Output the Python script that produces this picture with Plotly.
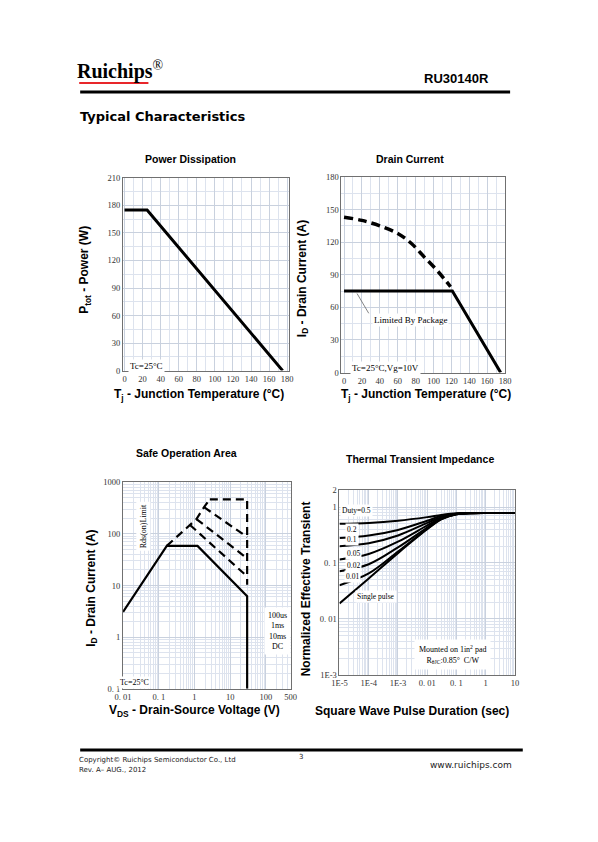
import plotly.graph_objects as go

W, H = 598, 842

# ---------------- data ----------------
# Power dissipation
pd_temp = [0, 25, 175]
pd_power = [175, 175, 0]

# Drain current
dc_temp_pkg = [0, 121, 175]
dc_id_pkg = [75, 75, 0]
dc_temp_si = [0, 20, 40, 60, 75, 90, 105, 119]
dc_id_si = [143, 140, 135, 128, 119, 106, 93, 79]

# Safe operating area
soa_v_dc = [0.01, 0.168, 1.22, 30, 30]
soa_i_dc = [3.08, 58.5, 58.5, 6.2, 0.1]
soa_v_rds = [0.168, 1.14, 1.86, 2.7]
soa_i_rds = [58.5, 194, 329, 468]
soa_v_100us = [2.7, 30, 30]
soa_i_100us = [468, 468, 10.4]
soa_v_1ms = [1.86, 30]
soa_i_1ms = [329, 87]
soa_v_10ms = [1.14, 30]
soa_i_10ms = [194, 33.5]
soa_v_3 = [0.75, 30]
soa_i_3 = [149, 15]

# Thermal transient impedance
tt_t = [1e-5, 1e-4, 1e-3, 1e-2, 3e-2, 0.1, 0.3, 1, 10]
tt_curves = {
    "0.5":    [0.50, 0.52, 0.57, 0.66, 0.72, 0.77, 0.78, 0.78, 0.78],
    "0.2":    [0.28, 0.31, 0.39, 0.57, 0.69, 0.76, 0.78, 0.78, 0.78],
    "0.1":    [0.20, 0.225, 0.31, 0.52, 0.66, 0.755, 0.78, 0.78, 0.78],
    "0.05":   [0.116, 0.145, 0.24, 0.47, 0.64, 0.75, 0.775, 0.78, 0.78],
    "0.02":   [0.071, 0.095, 0.19, 0.43, 0.62, 0.745, 0.775, 0.78, 0.78],
    "0.01":   [0.040, 0.065, 0.16, 0.41, 0.61, 0.74, 0.77, 0.78, 0.78],
    "single": [0.019, 0.053, 0.15, 0.40, 0.60, 0.74, 0.77, 0.78, 0.78],
}

# tick labels
pd_xticks = list(range(0, 181, 20))
pd_yticks = list(range(0, 211, 30))
dc_yticks = list(range(0, 181, 30))
soa_xvals = [0.01, 0.1, 1, 10, 100, 500]
soa_xtext = ["0. 01", "0. 1", "1", "10", "100", "500"]
soa_yvals = [0.1, 1, 10, 100, 1000]
soa_ytext = ["0. 1", "1", "10", "100", "1000"]
tt_xvals = [1e-5, 1e-4, 1e-3, 1e-2, 0.1, 1, 10]
tt_xtext = ["1E-5", "1E-4", "1E-3", "0. 01", "0. 1", "1", "10"]
tt_yvals = [1e-3, 0.01, 0.1, 1, 2]
tt_ytext = ["1E-3", "0. 01", "0. 1", "1", "2"]

# ---------------- helpers ----------------
def dx(a, b):
    return [a / W, b / W]

def dy(top, bottom):
    return [1 - bottom / H, 1 - top / H]

def px(x):
    return x / W

def py(y):
    return 1 - y / H

GRID = "#dde3ee"
GRID2 = "#c9d1de"
TICKFONT = dict(family="Liberation Serif", size=8.5, color="#333")
LINEC = "#707070"

fig = go.Figure()

# P1
fig.add_trace(go.Scatter(x=pd_temp, y=pd_power, mode="lines",
                         line=dict(color="black", width=3), xaxis="x", yaxis="y"))
# P2
fig.add_trace(go.Scatter(x=dc_temp_si, y=dc_id_si, mode="lines", line_shape="spline",
                         line=dict(color="black", width=3.5, dash="9px,5px"),
                         xaxis="x2", yaxis="y2"))
fig.add_trace(go.Scatter(x=dc_temp_pkg, y=dc_id_pkg, mode="lines",
                         line=dict(color="black", width=3), xaxis="x2", yaxis="y2"))
# P3
for vx, iy in [(soa_v_rds, soa_i_rds), (soa_v_100us, soa_i_100us), (soa_v_1ms, soa_i_1ms),
               (soa_v_10ms, soa_i_10ms), (soa_v_3, soa_i_3)]:
    fig.add_trace(go.Scatter(x=vx, y=iy, mode="lines",
                             line=dict(color="black", width=2.2, dash="8px,5px"),
                             xaxis="x3", yaxis="y3"))
fig.add_trace(go.Scatter(x=soa_v_dc, y=soa_i_dc, mode="lines",
                         line=dict(color="black", width=2.2), xaxis="x3", yaxis="y3"))
# P4
for k, v in tt_curves.items():
    fig.add_trace(go.Scatter(x=tt_t, y=v, mode="lines", line_shape="spline",
                             line=dict(color="black", width=2), xaxis="x4", yaxis="y4"))

common = dict(showline=True, mirror=True, linecolor=LINEC, linewidth=1, ticks="",
              tickfont=TICKFONT, zeroline=False, showgrid=True, gridcolor=GRID2, gridwidth=1)

fig.update_layout(
    width=W, height=H, autosize=False, showlegend=False,
    margin=dict(l=0, r=0, t=0, b=0),
    paper_bgcolor="white", plot_bgcolor="white",
    xaxis=dict(domain=dx(117, 287), range=[-1.6, 181.8], tickmode="array", tickvals=pd_xticks,
               minor=dict(dtick=10, tick0=0, showgrid=True, gridcolor=GRID), anchor="y", **common),
    yaxis=dict(domain=dy(175, 370), range=[0, 210], tickmode="array", tickvals=pd_yticks,
               minor=dict(dtick=15, tick0=0, showgrid=True, gridcolor=GRID), anchor="x", **common),
    xaxis2=dict(domain=dx(341, 509), range=[-2.9, 180.1], tickmode="array", tickvals=pd_xticks,
                minor=dict(dtick=10, tick0=0, showgrid=True, gridcolor=GRID), anchor="y2", **common),
    yaxis2=dict(domain=dy(174, 372), range=[0, 180], tickmode="array", tickvals=dc_yticks,
                minor=dict(dtick=15, tick0=0, showgrid=True, gridcolor=GRID), anchor="x2", **common),
    xaxis3=dict(domain=dx(117, 289), type="log", range=[-2, 2.699], tickmode="array",
                tickvals=soa_xvals, ticktext=soa_xtext,
                minor=dict(dtick="D1", showgrid=True, gridcolor=GRID), anchor="y3", **common),
    yaxis3=dict(domain=dy(483, 692), type="log", range=[-1, 3], tickmode="array",
                tickvals=soa_yvals, ticktext=soa_ytext,
                minor=dict(dtick="D1", showgrid=True, gridcolor=GRID), anchor="x3", **common),
    xaxis4=dict(domain=dx(339, 519), type="log", range=[-5, 1], tickmode="array",
                tickvals=tt_xvals, ticktext=tt_xtext,
                minor=dict(dtick="D1", showgrid=True, gridcolor=GRID), anchor="y4", **common),
    yaxis4=dict(domain=dy(491, 678), type="log", range=[-3, 0.30103], tickmode="array",
                tickvals=tt_yvals, ticktext=tt_ytext,
                minor=dict(dtick="D1", showgrid=True, gridcolor=GRID), anchor="x4", **common),
)

ann = []

def A(x, y, text, size=10, family="Liberation Sans", color="black", xanchor="center",
      yanchor="middle", angle=0, bg=None, align="center", pad=1):
    d = dict(x=px(x), y=py(y), xref="paper", yref="paper", text=text, showarrow=False,
             font=dict(family=family, size=size, color=color), xanchor=xanchor,
             yanchor=yanchor, textangle=angle, align=align)
    if bg:
        d.update(bgcolor=bg, borderpad=pad)
    ann.append(d)

# header
A(68, 66, "<b>Ruichips</b><sup>®</sup>", size=20, family="Liberation Serif", xanchor="left")
A(494, 74, "<b>RU30140R</b>", size=13, xanchor="right")
A(71, 113, "<b>Typical Characteristics</b>", size=13, family="DejaVu Sans", xanchor="left")

# titles
A(186, 156, "<b>Power Dissipation</b>", size=10.5)
A(411, 156, "<b>Drain Current</b>", size=10.5)
A(182, 453, "<b>Safe Operation Area</b>", size=10.5)
A(422, 459, "<b>Thermal Transient Impedance</b>", size=10.5)

# axis titles
A(78, 268, "<b>P<sub>tot</sub> - Power (W)</b>", size=12, angle=-90)
A(195, 395, "<b>T<sub>j</sub> - Junction Temperature (°C)</b>", size=12)
A(301, 277, "<b>I<sub>D</sub> - Drain Current (A)</b>", size=12, angle=-90)
A(428, 395, "<b>T<sub>j</sub> - Junction Temperature (°C)</b>", size=12)
A(85, 590, "<b>I<sub>D</sub> - Drain Current (A)</b>", size=12, angle=-90)
A(190, 714, "<b>V<sub>DS</sub> - Drain-Source Voltage (V)</b>", size=12)
A(305, 591, "<b>Normalized Effective Transient</b>", size=12, angle=-90)
A(413, 714, "<b>Square Wave Pulse Duration (sec)</b>", size=12)

SER = "Liberation Serif"
# P1 / P2 notes
A(141, 365, "Tc=25°C", size=9, family=SER, bg="white")
A(386, 367, "Tc=25°C,Vg=10V", size=9, family=SER, bg="white")
A(412, 319, "Limited By Package", size=9, family=SER, bg="white")
# P3 notes
A(138, 528, "Rds(on)Limit", size=8, family=SER, angle=-90, bg="white", pad=2)
A(129, 686, "Tc=25°C", size=8, family=SER, bg="white")
A(275, 634, "100us<br>1ms<br>10ms<br>DC", size=8, family=SER, bg="white", pad=3)
# P4 notes
A(356, 512, "Duty=0.5", size=7.5, family=SER, bg="white")
A(352, 531, "0.2", size=7.5, family=SER, bg="white")
A(352, 541, "0.1", size=7.5, family=SER, bg="white")
A(353, 555, "0.05", size=7.5, family=SER, bg="white")
A(353, 567, "0.02", size=7.5, family=SER, bg="white")
A(352, 578, "0.01", size=7.5, family=SER, bg="white")
A(376, 599, "Single pulse", size=7.5, family=SER, bg="white")
A(455, 657, "Mounted on 1in<sup>2</sup> pad<br>R<sub>θJC</sub>:0.85°  C/W", size=8,
  family=SER, bg="white", pad=4)

# footer
A(70, 764, "Copyright© Ruichips Semiconductor Co., Ltd", size=7, family="DejaVu Sans",
  xanchor="left", color="#222")
A(70, 774, "Rev. A– AUG., 2012", size=7, family="DejaVu Sans", xanchor="left", color="#222")
A(299, 761, "3", size=7, family="DejaVu Sans", color="#222")
A(518, 769, "www.ruichips.com", size=9, family="DejaVu Sans", xanchor="right", color="#222")

fig.update_layout(annotations=ann)

shapes = [
    dict(type="line", xref="paper", yref="paper", x0=px(72), x1=px(143), y0=py(79), y1=py(79),
         line=dict(color="#e8262a", width=2)),
    dict(type="line", xref="paper", yref="paper", x0=px(73), x1=px(514), y0=py(88), y1=py(88),
         line=dict(color="black", width=3)),
    dict(type="line", xref="paper", yref="paper", x0=px(73), x1=px(527), y0=py(754), y1=py(754),
         line=dict(color="black", width=3)),
    dict(type="line", xref="paper", yref="paper", x0=px(357), x1=px(369), y0=py(292), y1=py(312),
         line=dict(color="#666", width=0.8)),
]
fig.update_layout(shapes=shapes)

fig.write_html("out.html", config={"displayModeBar": False},
               post_script="document.body.style.margin='0px';")
